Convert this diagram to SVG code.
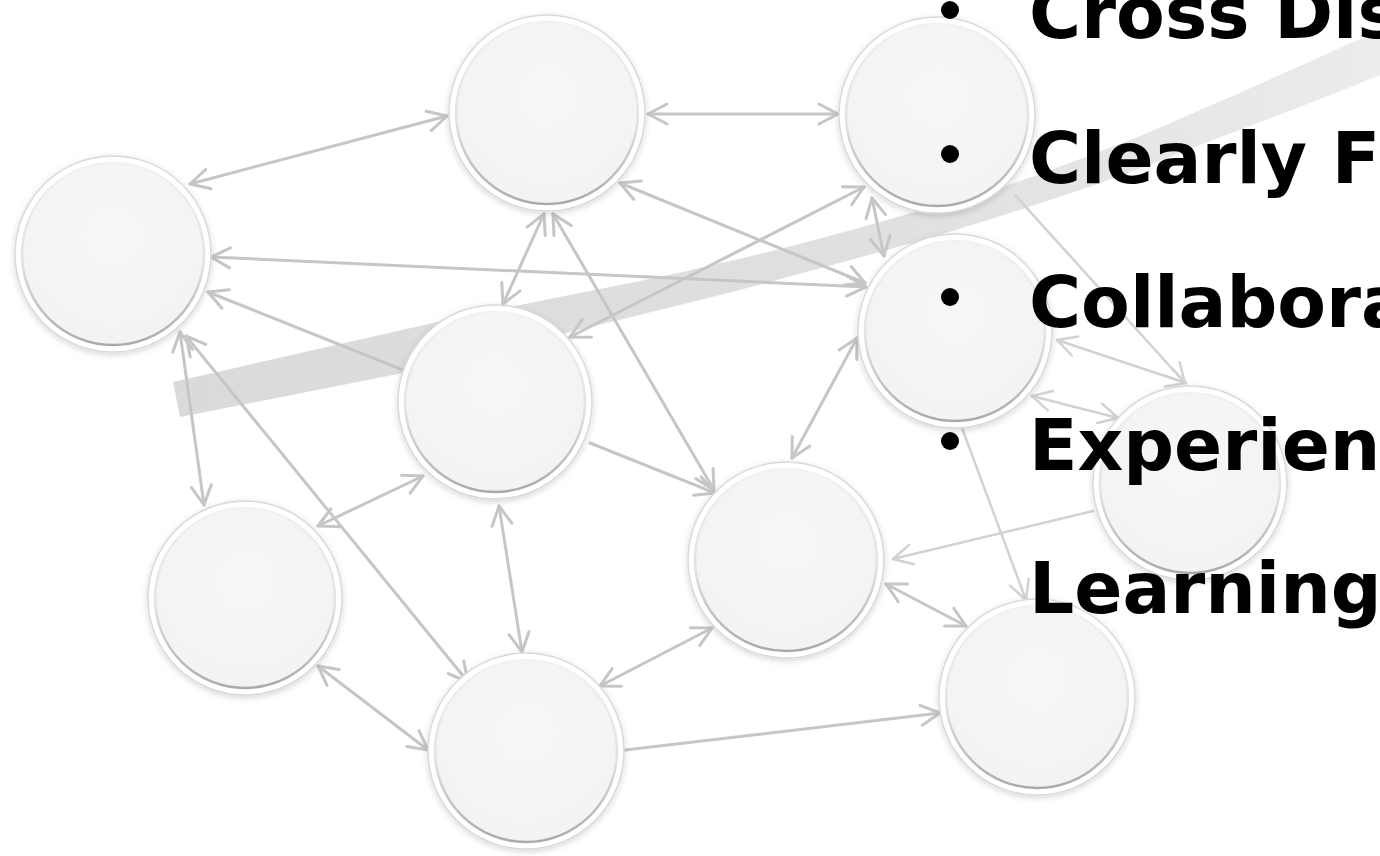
<svg xmlns="http://www.w3.org/2000/svg" width="1380" height="856" viewBox="0 0 1380 856">
<defs>
<style>
.halo{fill:#ffffff;stroke:#d9d9d9;stroke-width:1.5;filter:url(#sh)}
.body{fill:url(#fillg);stroke:url(#rim);stroke-width:2.5}
.c{fill:none;stroke:#c6c6c6;stroke-width:3;stroke-linecap:round}
.c.lt{stroke:#d2d2d2;stroke-width:2.5}
.b{marker-start:url(#ah);marker-end:url(#ah)}
.e{marker-end:url(#ah)}
.lt.b{marker-start:url(#ahl);marker-end:url(#ahl)}
.lt.e{marker-end:url(#ahl)}
.t{font-family:"DejaVu Sans","Liberation Sans",sans-serif;font-weight:bold;font-size:71px;fill:#000}
</style>
<filter id="sh" x="-20%" y="-20%" width="140%" height="140%">
<feDropShadow dx="0" dy="2" stdDeviation="3" flood-color="#000" flood-opacity="0.16"/>
</filter>
<radialGradient id="fillg" cx="0.5" cy="0.4" r="0.6">
<stop offset="0" stop-color="#f7f7f7"/>
<stop offset="1" stop-color="#f3f3f3"/>
</radialGradient>
<linearGradient id="rim" x1="0" y1="0" x2="0" y2="1">
<stop offset="0" stop-color="#f2f2f2"/>
<stop offset="0.55" stop-color="#e2e2e2"/>
<stop offset="1" stop-color="#a9a9a9"/>
</linearGradient>
<linearGradient id="band" x1="0" y1="0" x2="1" y2="0">
<stop offset="0" stop-color="#dadada"/>
<stop offset="0.6" stop-color="#e0e0e0"/>
<stop offset="1" stop-color="#ececec"/>
</linearGradient>
<marker id="ah" viewBox="0 0 24 24" refX="21" refY="12" markerWidth="24" markerHeight="24" markerUnits="userSpaceOnUse" orient="auto-start-reverse">
<path d="M2,2 L21,12 L2,22" fill="none" stroke="#c6c6c6" stroke-width="3" stroke-linecap="round" stroke-linejoin="round"/>
</marker>
<marker id="ahl" viewBox="0 0 24 24" refX="21" refY="12" markerWidth="24" markerHeight="24" markerUnits="userSpaceOnUse" orient="auto-start-reverse">
<path d="M2,2 L21,12 L2,22" fill="none" stroke="#d2d2d2" stroke-width="2.5" stroke-linecap="round" stroke-linejoin="round"/>
</marker>
</defs>
<rect width="1380" height="856" fill="#ffffff"/>
<path id="band-shape" d="M173,382 L433,323 C560,296 640,282 700,268 C780,250 830,236 880,222 C950,202 1000,190 1050,170 C1120,145 1160,128 1200,110 C1270,80 1330,52 1380,30 L1380,75 C1320,100 1260,122 1200,145 C1150,165 1100,184 1050,200 C990,220 930,238 880,252 C820,268 760,285 700,300 L403,373 L180,417 Z" fill="url(#band)"/>
<g id="connectors">
<line class="c b" x1="190" y1="184" x2="447" y2="116"/>
<line class="c b" x1="648" y1="114" x2="838" y2="114"/>
<line class="c b" x1="211" y1="257" x2="866" y2="287"/>
<line class="c e" x1="403" y1="370" x2="208" y2="292"/>
<line class="c b" x1="180" y1="332" x2="204" y2="505"/>
<line class="c b" x1="186" y1="336" x2="468" y2="682"/>
<line class="c b" x1="544" y1="214" x2="503" y2="304"/>
<line class="c b" x1="553" y1="214" x2="714" y2="490"/>
<line class="c b" x1="620" y1="183" x2="865" y2="283"/>
<line class="c b" x1="570" y1="337" x2="864" y2="187"/>
<line class="c b" x1="872" y1="198" x2="884" y2="256"/>
<line class="c lt e" x1="1015" y1="195" x2="1185" y2="383"/>
<line class="c lt b" x1="1057" y1="340" x2="1186" y2="383"/>
<line class="c lt b" x1="1032" y1="396" x2="1118" y2="418"/>
<line class="c lt e" x1="1093" y1="511" x2="893" y2="559"/>
<line class="c b" x1="886" y1="584" x2="966" y2="626"/>
<line class="c b" x1="857" y1="338" x2="792" y2="458"/>
<line class="c e" x1="590" y1="443" x2="715" y2="493"/>
<line class="c b" x1="423" y1="476" x2="318" y2="526"/>
<line class="c b" x1="499" y1="506" x2="522" y2="652"/>
<line class="c b" x1="318" y1="666" x2="428" y2="750"/>
<line class="c b" x1="712" y1="628" x2="600" y2="686"/>
<line class="c e" x1="625" y1="750" x2="940" y2="713"/>
<line class="c lt e" x1="962" y1="428" x2="1026" y2="600"/>
</g>
<g id="node-a"><circle class="halo" cx="113" cy="254" r="98"/><circle class="body" cx="113" cy="254" r="91"/></g>
<g id="node-b"><circle class="halo" cx="547" cy="113" r="98"/><circle class="body" cx="547" cy="113" r="91"/></g>
<g id="node-c"><circle class="halo" cx="937" cy="115" r="98"/><circle class="body" cx="937" cy="115" r="91"/></g>
<g id="node-d"><circle class="halo" cx="955" cy="331" r="97"/><circle class="body" cx="955" cy="331" r="90"/></g>
<g id="node-e"><circle class="halo" cx="495" cy="402" r="97"/><circle class="body" cx="495" cy="402" r="90"/></g>
<g id="node-f"><circle class="halo" cx="1190" cy="483" r="97"/><circle class="body" cx="1190" cy="483" r="90"/></g>
<g id="node-g"><circle class="halo" cx="245" cy="598" r="97"/><circle class="body" cx="245" cy="598" r="90"/></g>
<g id="node-h"><circle class="halo" cx="786" cy="560" r="98"/><circle class="body" cx="786" cy="560" r="91"/></g>
<g id="node-i"><circle class="halo" cx="526" cy="751" r="98"/><circle class="body" cx="526" cy="751" r="91"/></g>
<g id="node-j"><circle class="halo" cx="1037" cy="697" r="98"/><circle class="body" cx="1037" cy="697" r="91"/></g>
<g id="bullets">
<circle cx="950" cy="10" r="9"/>
<circle cx="950" cy="154" r="9"/>
<circle cx="950" cy="297" r="9"/>
<circle cx="950" cy="441" r="9"/>
<text class="t" x="1029" y="38">Cross Dis</text>
<text class="t" x="1029" y="183">Clearly F</text>
<text class="t" x="1029" y="327">Collabora</text>
<text class="t" x="1029" y="470">Experien</text>
<text class="t" x="1029" y="613">Learning</text>
</g>
</svg>
